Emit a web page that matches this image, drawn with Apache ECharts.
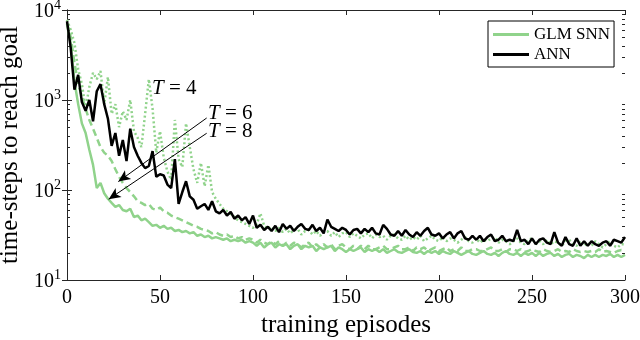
<!DOCTYPE html>
<html>
<head>
<meta charset="utf-8">
<script src="https://cdn.jsdelivr.net/npm/echarts@6/dist/echarts.min.js"></script>
<style>
  html, body { margin: 0; padding: 0; background: #fff; }
  #chart { width: 640px; height: 340px; }
</style>
</head>
<body>
<div id="chart"></div>
<script>
// episodes (every 2nd episode)
var episodes = [];
for (var e = 0; e <= 300; e += 2) episodes.push(e);

var xTicks = [0, 50, 100, 150, 200, 250, 300];
var yDecades = [10, 100, 1000, 10000];

// ANN
var annSteps = [
  7500, 3800, 1300, 1900, 950, 760, 1000, 580, 1250, 1500,
  900, 620, 310, 430, 240, 360, 210, 480, 300, 240,
  200, 175, 185, 270, 140, 150, 145, 115, 105, 220,
  70, 95, 125, 85, 78, 62, 66, 70, 60, 75,
  58, 55, 60, 52, 57, 48, 52, 46, 50, 42,
  52, 38, 41, 36, 39, 35, 40, 34, 42, 37,
  40, 35, 39, 42, 37, 36, 41, 35, 38, 33,
  47, 39, 37, 35, 38, 36, 32, 36, 37, 33,
  37, 34, 38, 33, 32, 41, 37, 32, 31, 35,
  31, 36, 32, 30, 34, 31, 35, 38, 32, 31,
  33, 29, 32, 34, 29, 33, 35, 29, 28, 31,
  28, 31, 27, 30, 32, 27, 28, 31, 27, 28,
  27, 36, 27, 28, 25, 29, 25, 28, 29, 26,
  25, 34, 26, 24, 30, 25, 24, 29, 24, 27,
  24, 27, 25, 24, 26, 27, 24, 28, 27, 26,
  30
];

// GLM SNN, T = 4 (dotted)
var snnT4 = [
  7800, 6000, 4300, 2200, 1500, 800, 1400, 2000, 1700, 2100,
  900, 1800, 700, 900, 500, 750, 600, 1000, 450, 380,
  300, 700, 1700, 800, 260, 450, 230, 160, 130, 600,
  220, 180, 550, 300, 170, 120, 200, 110, 190, 95,
  80, 70, 62, 58, 54, 50, 46, 44, 42, 40,
  38, 42, 55, 40, 37, 39, 35, 38, 34, 37,
  33, 36, 37, 32, 35, 36, 32, 35, 31, 34,
  35, 31, 34, 30, 33, 34, 30, 33, 31, 29,
  32, 33, 29, 32, 30, 31, 28, 31, 32, 29,
  28, 31, 28, 30, 28, 31, 27, 29, 31, 28,
  27, 30, 27, 29, 28, 26, 28, 30, 27, 26,
  29, 26, 28, 27, 29, 30, 26, 28, 27, 25,
  27, 29, 26, 25, 28, 29, 25, 27, 25, 28,
  25, 27, 26, 24, 27, 28, 25, 24, 27, 24,
  26, 24, 27, 25, 23, 25, 27, 24, 23, 25,
  25
];

// GLM SNN, T = 6 (dashed)
var snnT6 = [
  7200, 5000, 2600, 1500, 1100, 800, 600, 480, 380, 300,
  260, 240, 210, 170, 140, 120, 105, 95, 85, 75,
  72, 68, 70, 62, 60, 64, 58, 56, 52, 50,
  48, 46, 44, 42, 40, 39, 37, 36, 35, 33,
  34, 32, 31, 32, 30, 31, 29, 30, 28, 29,
  28, 26, 28, 26, 25, 27, 25, 27, 24, 26,
  24, 26, 25, 23, 25, 26, 23, 25, 23, 25,
  23, 25, 22, 24, 25, 23, 22, 24, 22, 24,
  22, 24, 22, 22, 23, 24, 22, 22, 23, 24,
  22, 22, 23, 21, 23, 22, 23, 21, 22, 23,
  21, 22, 23, 21, 22, 21, 23, 21, 21, 22,
  22, 21, 21, 22, 23, 21, 21, 22, 20.5, 22,
  22, 21, 22, 20.5, 21, 22, 21, 20.5, 22, 21,
  20.5, 21, 22, 20.5, 21, 20.5, 22, 21, 20.5, 21,
  20.5, 21, 20.5, 22, 20.5, 21, 20.5, 20, 21, 21.5,
  21
];

// GLM SNN, T = 8 (solid)
var snnT8 = [
  7000, 4200, 1600, 900, 550, 430, 280, 190, 105, 120,
  92, 80, 72, 65, 68, 60, 58, 62, 50, 52,
  46, 48, 44, 40, 41, 38, 40, 37, 38, 35,
  36, 34, 35, 33, 34, 31, 32, 30, 31, 29,
  30, 29, 28, 29, 27, 28, 27, 28, 26, 27,
  26, 24, 26, 23, 25, 26, 23, 25, 24, 25,
  22, 24, 25, 22, 24, 23, 24, 21, 23, 22,
  23, 24, 21, 23, 22, 20.5, 22, 21, 22, 23,
  20.5, 22, 21, 22, 20.5, 22, 20, 21, 22, 20.5,
  20, 21, 22, 20.5, 20, 21, 19.5, 21, 20, 21,
  19.5, 21, 20, 19.5, 21, 20, 19, 20, 21, 19.5,
  19, 20, 21, 19.5, 19, 20, 18.5, 20, 21, 19.5,
  19, 20, 18.5, 20, 19, 20, 18.5, 20, 18.5, 19.5,
  20, 18.5, 19.5, 18, 19, 19.5, 18, 19, 18.5, 17.5,
  19, 18, 19, 18, 19, 18.5, 19.5, 18, 19, 18,
  19
];

function pairs(ys) {
  return episodes.map(function (x, i) { return [x, ys[i]]; });
}

var green = '#90d38b';
var axisColor = '#262626';
var serif = '"Liberation Serif", "Times New Roman", serif';

var myChart = echarts.init(document.getElementById('chart'));

var tLabel = function (txt, l, t) {
  return {
    type: 'text', left: l, top: t,
    style: {
      text: '{i|T} = ' + txt,
      rich: { i: { fontStyle: 'italic', fontFamily: serif, fontSize: 21 } },
      fontFamily: serif, fontSize: 21, fill: '#000'
    }
  };
};

var option = {
  animation: false,
  backgroundColor: '#fff',
  grid: { left: 67, right: 15, top: 10, bottom: 60, outerBoundsMode: 'none', containLabel: false },
  legend: {
    data: ['GLM SNN', 'ANN'],
    orient: 'vertical',
    left: 488,
    top: 21,
    padding: [5, 4, 4, 5],
    itemGap: 3,
    icon: 'rect',
    itemWidth: 36,
    itemHeight: 3,
    borderColor: '#000',
    borderWidth: 1,
    backgroundColor: '#fff',
    textStyle: { fontFamily: serif, fontSize: 17, color: '#000', lineHeight: 17 }
  },
  xAxis: [{
    type: 'value', min: 0, max: 300, interval: 50,
    position: 'bottom',
    name: 'training episodes', nameLocation: 'middle', nameGap: 31,
    nameTextStyle: { fontFamily: serif, fontSize: 25, color: '#000' },
    axisLine: { lineStyle: { color: axisColor } },
    axisTick: { inside: true, length: 5, lineStyle: { color: axisColor } },
    axisLabel: { fontFamily: serif, fontSize: 20, color: '#000', margin: 8 },
    splitLine: { show: false }
  }, {
    type: 'value', min: 0, max: 300, interval: 50,
    position: 'top',
    axisLine: { lineStyle: { color: axisColor } },
    axisTick: { inside: true, length: 5, lineStyle: { color: axisColor } },
    axisLabel: { show: false },
    splitLine: { show: false }
  }],
  yAxis: [{
    type: 'log', logBase: 10, min: 10, max: 10000,
    position: 'left',
    name: 'time-steps to reach goal', nameLocation: 'middle', nameGap: 44,
    nameRotate: 90,
    nameTextStyle: { fontFamily: serif, fontSize: 25, color: '#000' },
    axisLine: { show: true, lineStyle: { color: axisColor } },
    axisTick: { inside: true, length: 5, lineStyle: { color: axisColor } },
    axisLabel: {
      margin: 6,
      formatter: function (v) {
        return '{b|10}{s|' + Math.round(Math.log10(v)) + '}';
      },
      rich: {
        b: { fontFamily: serif, fontSize: 20, color: '#000', verticalAlign: 'bottom' },
        s: { fontFamily: serif, fontSize: 14, color: '#000', verticalAlign: 'bottom', padding: [0, 0, 9, 0] }
      }
    },
    splitLine: { show: false }
  }, {
    type: 'log', logBase: 10, min: 10, max: 10000,
    position: 'right',
    axisLine: { show: true, lineStyle: { color: axisColor } },
    axisTick: { inside: true, length: 5, lineStyle: { color: axisColor } },
    axisLabel: { show: false },
    splitLine: { show: false }
  }],
  series: [{
    name: 'GLM SNN T=4',
    type: 'line',
    data: pairs(snnT4),
    symbol: 'none',
    lineStyle: { color: green, width: 2.5, type: [2, 2.5] },
    z: 2
  }, {
    name: 'GLM SNN T=6',
    type: 'line',
    data: pairs(snnT6),
    symbol: 'none',
    lineStyle: { color: green, width: 2.5, type: [7, 4] },
    z: 2
  }, {
    name: 'GLM SNN',
    type: 'line',
    data: pairs(snnT8),
    symbol: 'none',
    itemStyle: { color: green },
    lineStyle: { color: green, width: 2.5 },
    z: 3
  }, {
    name: 'ANN',
    type: 'line',
    data: pairs(annSteps),
    symbol: 'none',
    itemStyle: { color: '#000' },
    lineStyle: { color: '#000', width: 2.5 },
    z: 4,
    markLine: {
      silent: true,
      symbol: ['arrow', 'none'],
      symbolSize: [8, 12],
      label: { show: false },
      lineStyle: { color: '#000', width: 1, type: 'solid' },
      data: [
        [{ coord: [27.6, 124] }, { coord: [75.1, 631] }],
        [{ coord: [22.4, 79] }, { coord: [75.1, 427] }]
      ]
    }
  }],
  graphic: [tLabel('4', 152, 78), tLabel('6', 208, 103), tLabel('8', 208, 121)]
};

myChart.setOption(option);

// minor ticks of the log axes (2..9 in every decade), on both sides
var minor = [];
var x0 = myChart.convertToPixel({ xAxisIndex: 0 }, 0);
var x1 = myChart.convertToPixel({ xAxisIndex: 0 }, 300);
yDecades.slice(0, 3).forEach(function (d) {
  for (var k = 2; k <= 9; k++) {
    var py = Math.round(myChart.convertToPixel({ yAxisIndex: 0 }, d * k)) + 0.5;
    minor.push({ type: 'line', silent: true, shape: { x1: x0, y1: py, x2: x0 + 3, y2: py }, style: { stroke: axisColor, lineWidth: 1 } });
    minor.push({ type: 'line', silent: true, shape: { x1: x1, y1: py, x2: x1 - 3, y2: py }, style: { stroke: axisColor, lineWidth: 1 } });
  }
});
myChart.setOption({ graphic: option.graphic.concat(minor) });
</script>
</body>
</html>
